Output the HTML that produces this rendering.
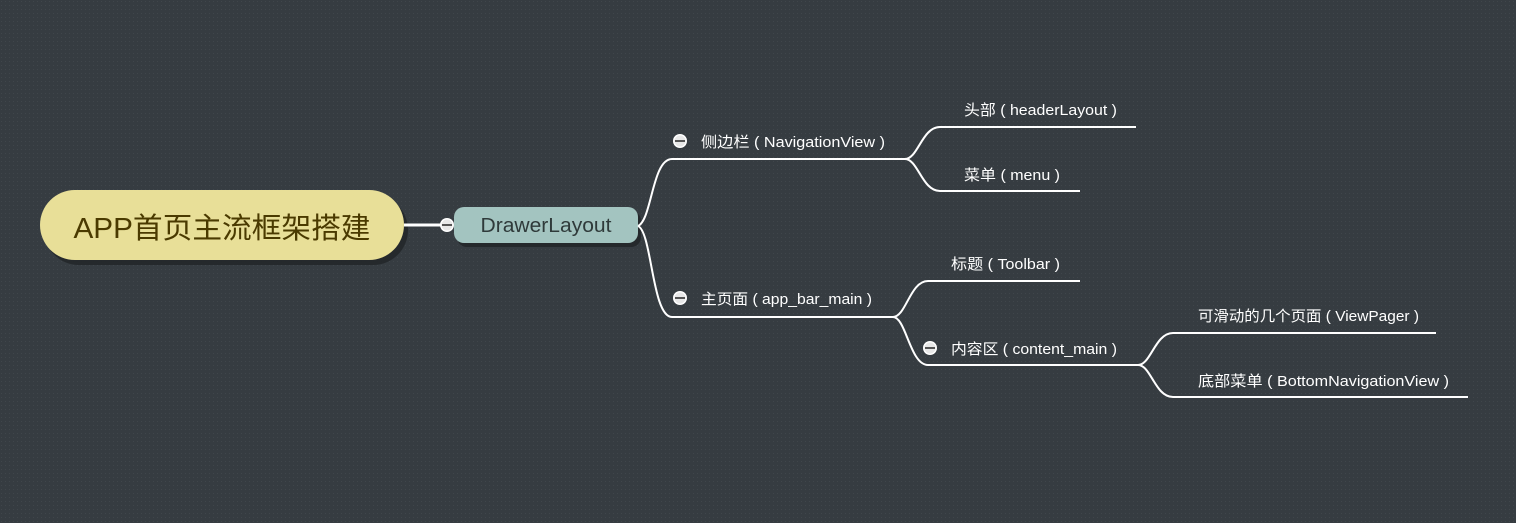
<!DOCTYPE html>
<html><head><meta charset="utf-8"><style>
html,body{margin:0;padding:0;background:#373d42;}
svg{display:block}
text{font-family:"Liberation Sans","Noto Sans CJK SC",sans-serif;}
</style></head><body>
<svg width="1516" height="523" viewBox="0 0 1516 523" xmlns="http://www.w3.org/2000/svg">
<defs>
<pattern id="dots" width="4" height="4" patternUnits="userSpaceOnUse"><rect width="4" height="4" fill="#363c41"/><rect x="1" y="1" width="1" height="1" fill="#40464b"/></pattern>
<g id="col"><circle r="7" fill="#fff"/><circle r="5.5" fill="#e8e8e8"/><rect x="-5" y="-1" width="10" height="2" fill="#555"/></g>
</defs>
<rect width="1516" height="523" fill="url(#dots)"/>
<rect x="44" y="195" width="364" height="70" rx="35" fill="#25292c"/>
<rect x="40" y="190" width="364" height="70" rx="35" fill="#e8df98"/>
<text x="222" y="238" font-size="29" fill="#4a3a00" text-anchor="middle" textLength="297" lengthAdjust="spacingAndGlyphs">APP首页主流框架搭建</text>
<line x1="404" y1="225" x2="442" y2="225" stroke="#fff" stroke-width="3"/>
<rect x="457" y="211" width="184" height="36" rx="10" fill="#25292c"/>
<rect x="454" y="207" width="184" height="36" rx="10" fill="#a3c4c0"/>
<text x="546" y="232" font-size="20" fill="#2f3a3a" text-anchor="middle" textLength="131" lengthAdjust="spacingAndGlyphs">DrawerLayout</text>
<use href="#col" x="447" y="225"/>
<g fill="none" stroke="#fff" stroke-width="2">
<path d="M638 226 C652 220,652 159,672 159 L905 159"/>
<path d="M638 226 C652 232,652 317,672 317 L893 317"/>
<path d="M905 159 C918 159,922 127,940 127 L1136 127"/>
<path d="M905 159 C918 159,922 191,940 191 L1080 191"/>
<path d="M893 317 C906 317,910 281,928 281 L1080 281"/>
<path d="M893 317 C906 317,910 365,928 365 L1138 365"/>
<path d="M1138 365 C1151 365,1155 333,1173 333 L1436 333"/>
<path d="M1138 365 C1151 365,1155 397,1173 397 L1468 397"/>
</g>
<use href="#col" x="680" y="141"/>
<use href="#col" x="680" y="298"/>
<use href="#col" x="930" y="348"/>
<g font-size="15" fill="#fff" xml:space="preserve">
<text x="701" y="147" textLength="184" lengthAdjust="spacingAndGlyphs">侧边栏 ( NavigationView )</text>
<text x="701" y="304" textLength="171" lengthAdjust="spacingAndGlyphs">主页面 ( app_bar_main )</text>
<text x="964" y="115" textLength="153" lengthAdjust="spacingAndGlyphs">头部 ( headerLayout )</text>
<text x="964" y="180" textLength="96" lengthAdjust="spacingAndGlyphs">菜单 ( menu )</text>
<text x="951" y="269" textLength="109" lengthAdjust="spacingAndGlyphs">标题 ( Toolbar )</text>
<text x="951" y="354" textLength="166" lengthAdjust="spacingAndGlyphs">内容区 ( content_main )</text>
<text x="1198" y="321" textLength="221" lengthAdjust="spacingAndGlyphs">可滑动的几个页面 ( ViewPager )</text>
<text x="1198" y="386" textLength="251" lengthAdjust="spacingAndGlyphs">底部菜单 ( BottomNavigationView )</text>
</g>
</svg>
</body></html>
